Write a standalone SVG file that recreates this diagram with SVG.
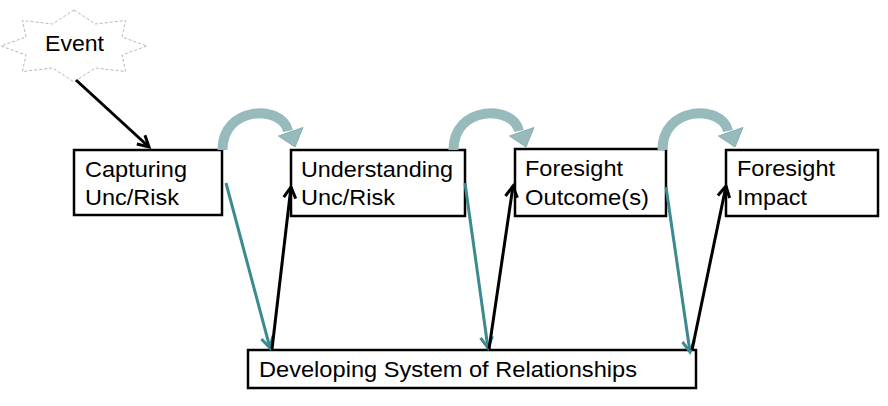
<svg xmlns="http://www.w3.org/2000/svg" width="888" height="406" viewBox="0 0 888 406">
<style>
  .box{fill:#fff;stroke:#000;stroke-width:2.5}
  .t{font-family:"Liberation Sans",Arial,sans-serif;font-size:22px;fill:#000}
  .blk{stroke:#000;stroke-width:3;fill:none;marker-end:url(#hb)}
  .teal{stroke:#3b8a90;stroke-width:3;fill:none;marker-end:url(#ht)}
  .curlLine{fill:none;stroke:#97bbbd;stroke-width:10}
  .curlHead{fill:#97bbbd;stroke:#86aeb1;stroke-width:1}
</style>
<defs>
  <marker id="hb" markerUnits="userSpaceOnUse" markerWidth="20" markerHeight="20" viewBox="-14 -10 16 20" refX="0" refY="0" orient="auto">
    <path d="M-11,-6 L0,0 L-11,6" fill="none" stroke="#000" stroke-width="3"/>
  </marker>
  <marker id="ht" markerUnits="userSpaceOnUse" markerWidth="20" markerHeight="20" viewBox="-14 -10 16 20" refX="0" refY="0" orient="auto">
    <path d="M-11,-6 L0,0 L-11,6" fill="none" stroke="#3b8a90" stroke-width="3"/>
  </marker>
  <g id="curl">
    <path class="curlLine" d="M222.5,150 C222,106 282,104 288,131"/>
    <polygon class="curlHead" points="295,147 278.5,136 303,127.5"/>
  </g>
</defs>

<g id="event">
  <polygon points="74,10 95.4,24 125.6,20.5 122,37 147,46 122,55 125.6,71.5 95.4,68 74,82 52.6,68 22.4,71.5 26,55 1,46 26,37 22.4,20.5 52.6,24" fill="#fff" stroke="#b8b8b8" stroke-width="1" stroke-dasharray="3,2"/>
  <text class="t" x="45" y="51" textLength="59" lengthAdjust="spacingAndGlyphs">Event</text>
</g>

<g id="capturing">
  <rect class="box" x="74" y="150" width="148" height="65"/>
  <text class="t" x="85" y="177" textLength="102" lengthAdjust="spacingAndGlyphs">Capturing</text>
  <text class="t" x="85" y="205" textLength="94" lengthAdjust="spacingAndGlyphs">Unc/Risk</text>
</g>

<g id="understanding">
  <rect class="box" x="291" y="150" width="174" height="66"/>
  <text class="t" x="301" y="177" textLength="152" lengthAdjust="spacingAndGlyphs">Understanding</text>
  <text class="t" x="301" y="205" textLength="94" lengthAdjust="spacingAndGlyphs">Unc/Risk</text>
</g>

<g id="outcome">
  <rect class="box" x="515" y="149" width="151" height="67"/>
  <text class="t" x="525" y="176" textLength="98" lengthAdjust="spacingAndGlyphs">Foresight</text>
  <text class="t" x="525" y="205" textLength="124" lengthAdjust="spacingAndGlyphs">Outcome(s)</text>
</g>

<g id="impact">
  <rect class="box" x="726" y="150" width="152" height="66"/>
  <text class="t" x="737" y="176" textLength="98" lengthAdjust="spacingAndGlyphs">Foresight</text>
  <text class="t" x="737" y="205" textLength="70" lengthAdjust="spacingAndGlyphs">Impact</text>
</g>

<g id="relationships">
  <rect class="box" x="248" y="350" width="448" height="38"/>
  <text class="t" x="259" y="377" textLength="378" lengthAdjust="spacingAndGlyphs">Developing System of Relationships</text>
</g>

<g id="connectors">
  <line class="blk" x1="76" y1="80" x2="149" y2="147" stroke-width="3.5"/>
  <use href="#curl"/>
  <use href="#curl" transform="translate(231,0)"/>
  <use href="#curl" transform="translate(440,0)"/>
  <line class="teal" x1="226" y1="183" x2="270" y2="348"/>
  <line class="blk" x1="272" y1="349" x2="291" y2="187"/>
  <line class="teal" x1="465" y1="183" x2="488" y2="348"/>
  <line class="blk" x1="489" y1="349" x2="513" y2="186"/>
  <line class="teal" x1="666" y1="187" x2="690" y2="352"/>
  <line class="blk" x1="692" y1="350" x2="726" y2="186"/>
</g>
</svg>
